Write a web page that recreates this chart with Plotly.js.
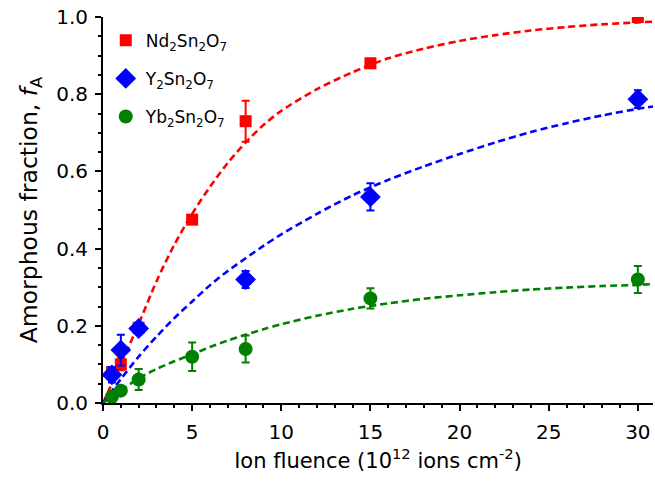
<!DOCTYPE html>
<html>
<head>
<meta charset="utf-8">
<script src="https://cdn.plot.ly/plotly-3.0.1.min.js"></script>
<style>html,body{margin:0;padding:0;background:#fff;}#chart{width:655px;height:484px;}</style>
</head>
<body>
<div id="chart"></div>
<script>
// Measured data points
const ndX = [0.5, 1, 2, 5, 8, 15, 30];
const ndY = [0.08, 0.10, 0.195, 0.475, 0.73, 0.88, 1.0];
const ndErr = [0.01, 0.015, 0.01, 0.01, 0.053, 0.012, 0.006];

const yX = [0.5, 1, 2, 8, 15, 30];
const yY = [0.073, 0.137, 0.193, 0.32, 0.534, 0.787];
const yErr = [0.02, 0.04, 0.012, 0.022, 0.035, 0.023];

const ybX = [0.5, 1, 2, 5, 8, 15, 30];
const ybY = [0.016, 0.032, 0.061, 0.12, 0.14, 0.271, 0.32];
const ybErr = [0.006, 0.008, 0.027, 0.037, 0.035, 0.026, 0.035];

// Fit curves
const ndFitX = [0, 0.5, 1, 2, 3, 4, 5, 6, 7, 8, 9, 10, 12, 14, 16, 18, 20, 22, 24, 26, 28, 30, 30.85];
const ndFitY = [0, 0.05, 0.10, 0.205, 0.315, 0.41, 0.49, 0.56, 0.622, 0.675, 0.72, 0.757, 0.813, 0.857, 0.893, 0.918, 0.938, 0.953, 0.965, 0.974, 0.981, 0.986, 0.988];

const yFitX = [0, 1, 2, 3, 4, 5, 6, 7, 8, 9, 10, 12, 14, 16, 18, 20, 22, 24, 26, 28, 30, 30.85];
const yFitY = [0, 0.062, 0.12, 0.172, 0.22, 0.263, 0.305, 0.342, 0.375, 0.407, 0.437, 0.49, 0.538, 0.578, 0.613, 0.645, 0.675, 0.702, 0.725, 0.745, 0.762, 0.768];

const ybFitX = [0, 0.5, 1, 2, 3, 4, 5, 6, 7, 8, 9, 10, 12, 14, 16, 18, 20, 22, 24, 26, 28, 30, 30.85];
const ybFitY = [0, 0.016, 0.032, 0.064, 0.088, 0.108, 0.126, 0.145, 0.162, 0.177, 0.191, 0.204, 0.226, 0.244, 0.258, 0.27, 0.279, 0.287, 0.294, 0.299, 0.303, 0.306, 0.308];

const names = ['Nd<sub>2</sub>Sn<sub>2</sub>O<sub>7</sub>', 'Y<sub>2</sub>Sn<sub>2</sub>O<sub>7</sub>', 'Yb<sub>2</sub>Sn<sub>2</sub>O<sub>7</sub>'];
const colors = ['#ff0000', '#0000ff', '#008000'];

function fit(x, y, c) {
  return {x: x, y: y, type: 'scatter', mode: 'lines', showlegend: false, hoverinfo: 'skip',
    line: {color: c, width: 2.6, dash: '7px,4px', shape: 'spline', smoothing: 0.8}};
}
function pts(x, y, e, c, sym, size, name, g) {
  return {x: x, y: y, type: 'scatter', mode: 'markers', name: name, legendgroup: g,
    marker: {color: c, symbol: sym, size: size},
    error_y: {type: 'data', array: e, visible: true, color: c, thickness: 2, width: 4}};
}

const data = [
  fit(ndFitX, ndFitY, colors[0]),
  fit(yFitX, yFitY, colors[1]),
  fit(ybFitX, ybFitY, colors[2]),
  pts(ndX, ndY, ndErr, colors[0], 'square', 12, names[0], 'a'),
  pts(yX, yY, yErr, colors[1], 'diamond', 16, names[1], 'b'),
  pts(ybX, ybY, ybErr, colors[2], 'circle', 14, names[2], 'c')
];

const fnt = 'DejaVu Sans, Verdana, sans-serif';
const baseAx = {showgrid: false, zeroline: false, showline: true, linecolor: '#000', linewidth: 2,
  tickcolor: '#000', tickwidth: 2, ticklen: 6};

const layout = {
  width: 655, height: 484,
  margin: {l: 103, r: 2, t: 17, b: 81, pad: 0},
  paper_bgcolor: '#fff', plot_bgcolor: '#fff',
  font: {family: fnt, color: '#000', size: 20},
  showlegend: true,
  legend: {x: 0.005, y: 0.985, xanchor: 'left', yanchor: 'top', bgcolor: 'rgba(0,0,0,0)',
    traceorder: 'grouped', tracegroupgap: 13,
    font: {family: fnt, size: 17, color: '#000'}},
  xaxis: Object.assign({}, baseAx, {range: [0, 30.85], dtick: 5, tick0: 0, ticks: 'outside',
    ticklabelstandoff: 4,
    minor: {dtick: 1, ticks: 'outside', ticklen: 3, tickwidth: 2, tickcolor: '#000'},
    tickfont: {family: fnt, size: 20},
    title: {text: 'Ion fluence (10<sup>12</sup> ions cm<sup>-2</sup>)', font: {family: fnt, size: 21}, standoff: 10}}),
  yaxis: Object.assign({}, baseAx, {range: [0, 1], dtick: 0.2, tick0: 0, tickformat: '.1f', ticks: 'outside',
    ticklabelstandoff: 3,
    minor: {dtick: 0.05, ticks: 'outside', ticklen: 3, tickwidth: 2, tickcolor: '#000'},
    tickfont: {family: fnt, size: 20},
    title: {text: 'Amorphous fraction, <i>f</i><sub>A</sub>', font: {family: fnt, size: 23.5}, standoff: 12}}),
  xaxis2: Object.assign({}, baseAx, {overlaying: 'x', side: 'top', anchor: 'y', range: [0, 30.85], dtick: 5, tick0: 0,
    ticks: 'inside', showticklabels: false,
    minor: {dtick: 1, ticks: 'inside', ticklen: 3, tickwidth: 2, tickcolor: '#000'}}),
  yaxis2: Object.assign({}, baseAx, {overlaying: 'y', side: 'right', anchor: 'x', range: [0, 1], dtick: 0.2, tick0: 0,
    ticks: 'inside', showticklabels: false,
    minor: {dtick: 0.05, ticks: 'inside', ticklen: 3, tickwidth: 2, tickcolor: '#000'}})
};

Plotly.newPlot('chart', data, layout, {displayModeBar: false, staticPlot: true});
</script>
</body>
</html>
